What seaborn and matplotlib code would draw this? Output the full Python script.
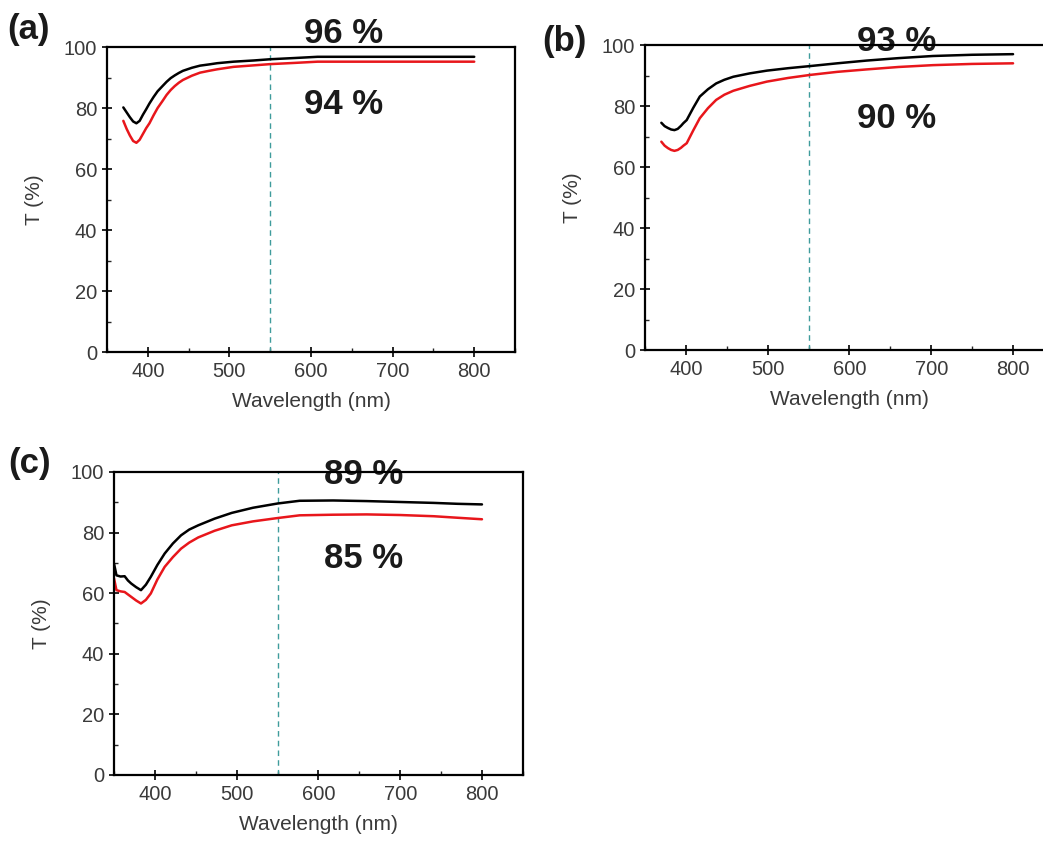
import numpy as np
import pandas as pd
import seaborn as sns
import matplotlib.pyplot as plt
from matplotlib.ticker import MultipleLocator

# transmittance spectra (wavelength nm, T %)
wl_a = [370, 374, 378, 382, 386, 390, 394, 398, 402, 407, 412, 418, 423, 428, 433, 438, 443, 454, 464, 475, 485, 505, 530, 550, 580, 608, 700, 800]
black_a = [80.2, 78.6, 77.0, 75.6, 75.0, 75.8, 77.8, 79.6, 81.5, 83.6, 85.5, 87.2, 88.6, 89.8, 90.7, 91.5, 92.2, 93.2, 93.9, 94.3, 94.7, 95.2, 95.6, 96.0, 96.4, 96.8, 96.8, 96.8]
red_a = [75.8, 73.2, 71.0, 69.2, 68.6, 69.6, 71.5, 73.4, 75.0, 77.6, 80.0, 82.3, 84.3, 85.9, 87.2, 88.3, 89.2, 90.6, 91.6, 92.2, 92.7, 93.5, 94.0, 94.4, 94.8, 95.2, 95.2, 95.2]

wl_b = [370, 374, 378, 382, 386, 390, 394, 397, 401, 409, 417, 427, 437, 447, 458, 478, 499, 525, 552, 585, 621, 660, 702, 750, 800]
black_b = [74.5, 73.4, 72.8, 72.3, 72.1, 72.5, 73.5, 74.4, 75.4, 79.4, 83.1, 85.5, 87.4, 88.6, 89.6, 90.7, 91.6, 92.4, 93.1, 94.0, 94.9, 95.7, 96.4, 96.8, 97.0]
red_b = [68.3, 67.0, 66.2, 65.6, 65.3, 65.6, 66.3, 67.0, 67.8, 72.0, 76.0, 79.3, 82.0, 83.7, 85.0, 86.6, 88.0, 89.2, 90.2, 91.2, 92.0, 92.8, 93.4, 93.8, 94.0]

wl_c = [350, 353, 358, 363, 367, 371, 377, 383, 389, 395, 403, 412, 422, 432, 442, 453, 473, 494, 520, 550, 577, 618, 659, 700, 741, 770, 800]
black_c = [69.8, 65.9, 65.5, 65.6, 64.2, 63.2, 62.0, 61.0, 62.8, 65.4, 69.3, 73.1, 76.4, 79.1, 81.0, 82.4, 84.6, 86.5, 88.2, 89.6, 90.5, 90.6, 90.4, 90.1, 89.8, 89.5, 89.3]
red_c = [64.9, 61.0, 60.6, 60.4, 59.6, 58.8, 57.6, 56.6, 57.8, 59.9, 64.5, 68.7, 71.9, 74.7, 76.7, 78.4, 80.6, 82.4, 83.7, 84.8, 85.7, 85.9, 86.0, 85.8, 85.4, 84.9, 84.4]

# labels: (panel, top text, lower text)
panel_names = ["(a)", "(b)", "(c)"]
top_labels = ["96 %", "93 %", "89 %"]
low_labels = ["94 %", "90 %", "85 %"]
top_pos = [(640, 104.6), (658, 101.3), (655, 99.2)]
low_pos = [(640, 81.3), (658, 76.0), (655, 71.4)]
marker_nm = 550

sns.set_style("white")
plt.rcParams['font.family'] = ['Liberation Sans', 'DejaVu Sans']

fig = plt.figure(figsize=(10.43, 8.43), dpi=100)
boxes = [[0.1026, 0.5824, 0.3912, 0.3618],
         [0.6184, 0.5848, 0.3921, 0.3618],
         [0.1093, 0.0807, 0.3920, 0.3594]]
panel_xy = [(0.007, 0.985), (0.520, 0.970), (0.008, 0.470)]

data = [(wl_a, black_a, red_a), (wl_b, black_b, red_b), (wl_c, black_c, red_c)]

for i, (wl, blk, red) in enumerate(data):
    ax = fig.add_axes(boxes[i])
    df = pd.DataFrame({"wl": wl + wl, "T": blk + red,
                       "sample": ["black"] * len(wl) + ["red"] * len(wl)})
    sns.lineplot(data=df, x="wl", y="T", hue="sample", palette={"black": "black", "red": "#e8161b"},
                 lw=1.8, legend=False, ax=ax, zorder=3)
    ax.axvline(marker_nm, color="#3f9c9c", ls=(0, (4, 3)), lw=1.0, zorder=2)
    ax.set_xlim(350, 850)
    ax.set_ylim(0, 100)
    ax.xaxis.set_major_locator(MultipleLocator(100))
    ax.xaxis.set_minor_locator(MultipleLocator(50))
    ax.yaxis.set_major_locator(MultipleLocator(20))
    ax.yaxis.set_minor_locator(MultipleLocator(10))
    ax.set_xticks([400, 500, 600, 700, 800])
    ax.tick_params(which="major", direction="inout", length=7, width=1.2, colors="black",
                   labelcolor="#3a3a3a", labelsize=14.5, bottom=True, left=True)
    ax.tick_params(which="minor", direction="in", length=3, width=1.0, bottom=True, left=True)
    for s in ax.spines.values():
        s.set_color("black")
        s.set_linewidth(1.6)
        s.set_zorder(4)
    ax.set_xlabel("Wavelength (nm)", fontsize=15, color="#3a3a3a", labelpad=8)
    ax.set_ylabel("T (%)", fontsize=15, color="#3a3a3a", labelpad=14)
    for lab, pos in [(top_labels[i], top_pos[i]), (low_labels[i], low_pos[i])]:
        ax.text(pos[0], pos[1], lab, ha="center", va="center", fontsize=25, fontweight="bold",
                family=['Liberation Sans Narrow', 'DejaVu Sans Condensed', 'Liberation Sans'],
                color="#1a1a1a", clip_on=False, zorder=1)
    fig.text(panel_xy[i][0], panel_xy[i][1], panel_names[i], fontsize=25, fontweight="bold",
             color="#1a1a1a", ha="left", va="top")

fig.savefig("out.png", dpi=100)
